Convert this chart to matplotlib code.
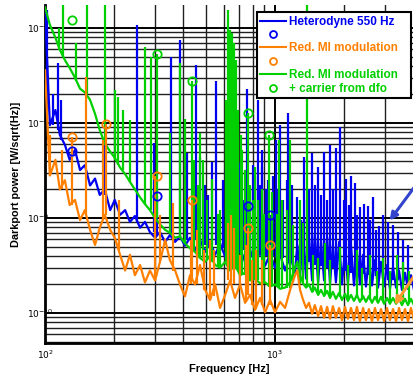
import matplotlib
matplotlib.use("Agg")
import matplotlib.pyplot as plt
from matplotlib.lines import Line2D
from matplotlib.ticker import NullFormatter

# colours of the three measurements
BLUE = "#0000f0"
ORANGE = "#ff8000"
GREEN = "#00d000"

# frequency grid [Hz] for the noise floors
freq = [100, 105, 111, 116, 122, 128, 135, 142, 149, 157, 165, 173, 182, 192, 201,
        212, 223, 234, 246, 259, 272, 286, 301, 316, 333, 349, 368, 386, 406, 427,
        449, 472, 497, 522, 549, 577, 607, 638, 670, 705, 741, 779, 819, 861, 906,
        952, 1000, 1052, 1106, 1163, 1222,
        1250, 1285, 1325, 1365, 1405, 1450, 1490, 1540, 1585, 1635, 1685, 1735, 1785,
        1840, 1900, 1955, 2015, 2075, 2140, 2205, 2270, 2340, 2415, 2485, 2560, 2640,
        2720, 2805, 2890, 2980, 3070, 3160, 3260, 3360, 3460, 3565, 3675, 3785, 3900, 4020]

# heterodyne 550 Hz floor [W/sqrt(Hz)]
blue = [1.55e-7, 9.5e-9, 1.37e-8, 7.5e-9, 5.9e-9, 4.1e-9, 5.2e-9, 3.2e-9, 3.6e-9, 2.2e-9,
        2.6e-9, 1.75e-9, 2.0e-9, 1.21e-9, 1.55e-9, 1.08e-9, 1.21e-9, 9.1e-10, 1.05e-9, 7.9e-10,
        9.1e-10, 7.1e-10, 6.2e-10, 7.1e-10, 5.6e-10, 6.6e-10, 5.6e-10, 6.4e-10, 5.1e-10, 6.2e-10,
        4.6e-10, 5.9e-10, 4.4e-10, 5.6e-10, 4.1e-10, 5.4e-10, 3.9e-10, 5.1e-10, 3.6e-10, 4.8e-10,
        3.45e-10, 4.6e-10, 3.3e-10, 4.4e-10, 3.15e-10, 4.2e-10, 3.0e-10, 4.1e-10, 2.8e-10, 4.0e-10,
        2.65e-10,
        5.2e-10, 2.5e-10, 7.1e-10, 2.3e-10, 6.2e-10, 2.2e-10, 6.6e-10, 2.1e-10, 5.6e-10, 2.2e-10,
        6.2e-10, 2.05e-10, 5.2e-10, 2.1e-10, 5.6e-10, 2.0e-10, 4.6e-10, 2.05e-10, 5.1e-10, 1.95e-10,
        4.4e-10, 2.0e-10, 4.1e-10, 1.9e-10, 3.8e-10, 1.95e-10, 3.6e-10, 1.85e-10, 3.45e-10, 1.9e-10,
        3.2e-10, 1.8e-10, 3.0e-10, 1.85e-10, 2.8e-10, 1.75e-10, 2.65e-10, 1.8e-10, 2.5e-10, 1.75e-10]

# reduced MI modulation floor
orange = [3.6e-8, 2.8e-9, 4.1e-9, 2.0e-9, 2.5e-9, 1.37e-9, 1.55e-9, 9.5e-10, 1.21e-9, 7.5e-10,
          5.2e-10, 7.9e-10, 1.08e-9, 7.5e-10, 6.2e-10, 4.1e-10, 2.8e-10, 4.1e-10, 2.5e-10, 3.2e-10,
          2.1e-10, 2.8e-10, 2.2e-10, 3.45e-10, 5.9e-10, 3.6e-10, 2.8e-10, 2.0e-10, 1.5e-10, 2.5e-10,
          2.0e-10, 3.2e-10, 1.75e-10, 1.37e-10, 2.0e-10, 1.13e-10, 1.55e-10, 2.2e-10, 1.44e-10, 2.0e-10,
          1.28e-10, 1.55e-10, 1.08e-10, 1.44e-10, 1.02e-10, 1.37e-10, 1.02e-10, 1.31e-10, 1.13e-10, 1.75e-10,
          2.5e-10,
          2.8e-10, 1.75e-10, 1.37e-10, 1.13e-10, 1.28e-10, 9.8e-11, 1.21e-10, 9.3e-11, 1.18e-10, 8.9e-11,
          1.16e-10, 8.7e-11, 1.18e-10, 8.9e-11, 1.13e-10, 8.4e-11, 1.16e-10, 8.7e-11, 1.13e-10, 8.4e-11,
          1.16e-10, 8.2e-11, 1.13e-10, 8.4e-11, 1.1e-10, 8.2e-11, 1.13e-10, 8.4e-11, 1.1e-10, 8.2e-11,
          1.13e-10, 8.4e-11, 1.1e-10, 8.2e-11, 1.13e-10, 8.4e-11, 1.1e-10, 8.2e-11, 1.13e-10, 8.4e-11]

# reduced MI modulation + carrier from dfo floor
green = [1.65e-7, 1.08e-7, 7.9e-8, 5.9e-8, 4.6e-8, 3.8e-8, 3.0e-8, 2.3e-8, 2.1e-8, 1.75e-8,
         1.25e-8, 8.4e-9, 6.1e-9, 5.0e-9, 4.3e-9, 3.4e-9, 2.9e-9, 2.4e-9, 2.0e-9, 1.65e-9,
         1.4e-9, 1.21e-9, 1.0e-9, 8.6e-10, 7.5e-10, 7.0e-10, 6.2e-10, 6.4e-10, 5.4e-10, 4.8e-10,
         4.4e-10, 3.8e-10, 3.45e-10, 4.0e-10, 3.2e-10, 3.0e-10, 3.45e-10, 2.8e-10, 3.2e-10, 2.5e-10,
         2.65e-10, 2.2e-10, 2.3e-10, 2.05e-10, 2.1e-10, 1.9e-10, 2.0e-10, 1.8e-10, 1.85e-10, 2.1e-10,
         3.0e-10,
         3.45e-10, 2.5e-10, 2.05e-10, 1.85e-10, 2.0e-10, 1.67e-10, 1.85e-10, 1.55e-10, 1.75e-10, 1.51e-10,
         1.71e-10, 1.44e-10, 1.67e-10, 1.41e-10, 1.63e-10, 1.37e-10, 1.59e-10, 1.34e-10, 1.55e-10, 1.34e-10,
         1.55e-10, 1.31e-10, 1.51e-10, 1.31e-10, 1.51e-10, 1.28e-10, 1.48e-10, 1.28e-10, 1.48e-10, 1.25e-10,
         1.44e-10, 1.25e-10, 1.44e-10, 1.25e-10, 1.41e-10, 1.21e-10, 1.41e-10, 1.21e-10, 1.41e-10, 1.21e-10]

# spectral lines: frequency, floor, peak
blue_line_f = [102, 108, 114, 117, 182, 251, 298, 307, 353, 386, 414, 453, 472, 497, 512,
               532, 553, 595, 613, 617, 644, 657, 670, 690, 705, 726, 756, 779, 802, 819,
               843, 861, 878, 880, 915, 930, 952, 980, 1010, 1021, 1052, 1085, 1125, 1144, 1181,
               1250, 1295, 1334, 1378, 1405, 1448,
               1490, 1538, 1585, 1633, 1685, 1734, 1785, 1842, 1915, 1990, 2040, 2090, 2140, 2230, 2270,
               2340, 2440, 2540, 2590, 2670, 2750, 2830, 2960, 3100, 3260, 3420, 3600, 3790]
blue_line_lo = [1.2e-8, 9.5e-9, 8.4e-9, 6.6e-9, 1.75e-9, 9.1e-10, 7.1e-10, 6.6e-10, 6.6e-10, 6.4e-10,
                5.9e-10, 5.9e-10, 5.9e-10, 5.2e-10, 5.2e-10, 5.2e-10, 5.2e-10, 4.8e-10, 4.8e-10, 4.8e-10,
                4.8e-10, 4.6e-10, 4.6e-10, 4.6e-10, 4.6e-10, 4.6e-10, 4.4e-10, 4.4e-10, 4.4e-10, 4.4e-10,
                4.2e-10, 4.2e-10, 4.2e-10, 4.2e-10, 4.0e-10, 4.0e-10, 4.0e-10, 4.0e-10, 3.8e-10, 3.8e-10,
                3.8e-10, 3.8e-10, 3.8e-10, 3.8e-10, 3.6e-10,
                3.6e-10, 3.6e-10, 3.45e-10, 3.45e-10, 3.45e-10, 3.2e-10,
                3.2e-10, 3.2e-10, 3.1e-10, 3.05e-10, 3.0e-10, 3.0e-10, 3.0e-10, 3.0e-10, 2.8e-10, 2.8e-10,
                2.8e-10, 2.8e-10, 2.65e-10, 2.65e-10, 2.65e-10,
                2.55e-10, 2.55e-10, 2.5e-10, 2.5e-10, 2.45e-10, 2.45e-10, 2.3e-10, 2.3e-10, 2.2e-10, 2.2e-10,
                2.2e-10, 2.1e-10, 2.1e-10]
blue_line_hi = [1.55e-7, 2.0e-8, 4.3e-8, 1.75e-8, 5.9e-9, 1.08e-7, 6.1e-9, 1.7e-9, 5.0e-8, 7.5e-8,
                4.8e-9, 4.1e-8, 4.4e-9, 2.2e-9, 1.75e-9, 3.9e-9, 2.8e-8, 2.5e-9, 3.2e-9, 2.0e-9,
                2.2e-9, 2.0e-9, 1.75e-9, 4.1e-9, 3.8e-9, 1.55e-9, 2.3e-8, 2.0e-9, 3.6e-9, 2.8e-9,
                1.75e-8, 2.2e-9, 5.2e-9, 3.45e-9, 2.0e-9, 2.5e-9, 1.08e-9, 2.8e-9, 6.6e-9, 2.0e-9,
                9.5e-9, 1.55e-9, 2.5e-9, 1.27e-8, 2.2e-9,
                1.65e-9, 9.5e-10, 4.4e-9, 1.55e-9, 2.0e-9, 4.8e-9,
                2.2e-9, 3.45e-9, 1.75e-9, 4.95e-9, 1.55e-9, 5.9e-9, 2.0e-9, 5.5e-9, 9.0e-9, 1.55e-9,
                2.6e-9, 1.37e-9, 2.8e-9, 2.35e-9, 1.08e-9,
                1.3e-9, 1.4e-9, 1.35e-9, 9.5e-10, 1.65e-9, 7.5e-10, 8.2e-10, 1.08e-9, 9.1e-10, 8.4e-10,
                7.1e-10, 5.9e-10, 5.2e-10]

green_line_f = [115, 120, 136, 152, 182, 201, 208, 218, 234, 272, 289, 307, 349, 386, 406,
                436, 444, 462, 472, 485, 506, 532, 565, 577, 613, 625, 636, 650, 663, 676,
                690, 712, 720, 741, 762, 779, 800, 819, 843, 878, 895, 943, 975, 1021, 1040,
                1075, 1125, 1160, 1200, 1285, 1324, 1374, 1470, 1540, 1650, 1734, 1915, 2077, 2272,
                2390, 2590, 2780, 2960, 3160, 3390, 3600, 3830]
green_line_lo = [5.9e-8, 4.9e-8, 2.8e-8, 2.0e-8, 5.9e-9, 4.1e-9, 3.6e-9, 3.2e-9, 2.4e-9, 1.4e-9,
                 1.21e-9, 1.0e-9, 7.0e-10, 6.4e-10, 5.4e-10, 4.8e-10, 4.6e-10, 4.0e-10, 3.8e-10, 3.8e-10,
                 3.6e-10, 3.45e-10, 3.1e-10, 3.0e-10, 3.45e-10, 2.8e-10, 2.8e-10, 2.9e-10, 3.2e-10, 2.9e-10,
                 2.8e-10, 2.5e-10, 2.5e-10, 2.5e-10, 2.5e-10, 2.2e-10, 2.2e-10, 2.3e-10, 2.2e-10, 2.0e-10,
                 2.1e-10, 1.9e-10, 1.95e-10, 1.9e-10, 1.85e-10,
                 1.85e-10, 1.85e-10, 1.85e-10, 2.1e-10, 2.0e-10, 2.0e-10, 1.9e-10, 1.67e-10, 1.63e-10,
                 1.6e-10, 1.51e-10, 1.48e-10, 1.44e-10, 1.44e-10,
                 1.37e-10, 1.37e-10, 1.37e-10, 1.34e-10, 1.34e-10, 1.31e-10, 1.31e-10, 1.31e-10]
green_line_hi = [1.0e-7, 1.75e-7, 6.9e-8, 1.75e-7, 1.8e-7, 2.2e-8, 1.9e-8, 1.37e-8, 1.08e-8, 6.3e-8,
                 5.0e-8, 5.3e-8, 7.8e-9, 4.3e-8, 1.1e-8, 2.8e-8, 4.1e-9, 2.2e-9, 7.8e-9, 4.1e-9,
                 1.55e-9, 2.6e-9, 1.1e-9, 1.2e-9, 1.75e-8, 1.55e-7, 9.5e-8, 8.9e-8, 6.9e-8, 4.6e-8,
                 1.37e-8, 7.5e-9, 5.2e-9, 3.2e-9, 1.27e-8, 2.2e-9, 1.55e-9, 3.45e-9, 1.55e-9, 2.0e-9,
                 1.1e-9, 7.5e-9, 1.9e-9, 1.1e-9, 6.6e-9,
                 1.55e-9, 1.2e-9, 6.6e-9, 8.4e-10, 1.55e-9, 8.9e-10, 1.75e-7, 4.1e-10, 3.8e-10,
                 5.4e-10, 3.6e-10, 4.9e-10, 3.2e-10, 4.6e-10,
                 3.0e-10, 4.1e-10, 2.8e-10, 3.8e-10, 2.8e-10, 4.1e-10, 3.45e-10, 2.8e-10]

orange_line_f = [105, 118, 131, 151, 179, 184, 210, 301, 316, 360, 432, 436, 458, 490, 522,
                 545, 625, 644, 663, 705, 748, 762, 793, 827, 878, 952]
orange_line_lo = [2.8e-9, 2.0e-9, 1.37e-9, 1.08e-9, 9.5e-10, 1.08e-9, 4.6e-10, 2.2e-10, 3.45e-10, 2.8e-10,
                  2.0e-10, 2.3e-10, 2.0e-10, 1.75e-10, 1.37e-10,
                  1.5e-10, 2.2e-10, 2.1e-10, 2.0e-10, 2.0e-10, 1.3e-10, 1.55e-10, 1.2e-10, 1.1e-10, 1.2e-10,
                  1.21e-10]
orange_line_hi = [7.5e-9, 5.2e-9, 7.1e-9, 3.05e-8, 6.6e-9, 9.8e-9, 1.55e-9, 2.75e-9, 1.08e-9, 1.45e-9,
                  5.9e-10, 1.55e-9, 7.5e-10, 4.6e-10, 5.9e-10,
                  4.6e-10, 8.9e-10, 1.08e-9, 7.9e-10, 4.1e-10, 5.2e-10, 7.9e-10, 3.6e-10, 4.6e-10, 3.6e-10,
                  5.2e-10]

# marked line peaks (open circles)
blue_mark_f = [131, 307, 762, 952]
blue_mark_v = [5.1e-9, 1.7e-9, 1.35e-9, 1.08e-9]
orange_mark_f = [131, 184, 307, 436, 762, 952]
orange_mark_v = [7.1e-9, 9.8e-9, 2.75e-9, 1.55e-9, 7.9e-10, 5.2e-10]
green_mark_f = [131, 307, 436, 762, 946]
green_mark_v = [1.21e-7, 5.3e-8, 2.8e-8, 1.27e-8, 7.5e-9]

x_ticks = [100, 1000]
y_ticks = [1e-10, 1e-9, 1e-8, 1e-7]

plt.rcParams["mathtext.fontset"] = "custom"
plt.rcParams["mathtext.rm"] = "Liberation Serif:bold"
plt.rcParams["mathtext.default"] = "rm"

fig = plt.figure(figsize=(4.13, 3.75), dpi=100)
ax = fig.add_axes([0.109, 0.0853, 0.891, 0.9013])
ax.set_xscale("log")
ax.set_yscale("log")

lw = 1.6
ax.plot(freq, blue, color=BLUE, lw=lw, zorder=3)
ax.vlines(blue_line_f, blue_line_lo, blue_line_hi, color=BLUE, lw=lw, zorder=3)
ax.plot(freq, green, color=GREEN, lw=lw, zorder=4)
ax.vlines(green_line_f, green_line_lo, green_line_hi, color=GREEN, lw=lw, zorder=4)
ax.plot(freq, orange, color=ORANGE, lw=lw, zorder=5)
ax.vlines(orange_line_f, orange_line_lo, orange_line_hi, color=ORANGE, lw=lw, zorder=5)

mk = dict(marker="o", ls="none", ms=6, mew=1.3, mfc="none", zorder=6)
ax.plot(blue_mark_f, blue_mark_v, mec=BLUE, **mk)
ax.plot(orange_mark_f, orange_mark_v, mec=ORANGE, **mk)
ax.plot(green_mark_f, green_mark_v, mec=GREEN, **mk)

ax.set_xlim(100, 3981)
ax.set_ylim(4.83e-11, 1.746e-7)
ax.set_xticks(x_ticks)
ax.set_yticks(y_ticks)

ax.set_axisbelow(True)
ax.grid(True, which="major", color="black", lw=1.4)
ax.grid(True, which="minor", color="#202020", lw=1.0)
ax.xaxis.set_minor_formatter(NullFormatter())
ax.yaxis.set_minor_formatter(NullFormatter())
ax.tick_params(which="both", length=0, labelsize=6.5)
ax.tick_params(axis="x", pad=4)
ax.tick_params(axis="y", pad=13)
for lbl in ax.get_yticklabels():
    lbl.set_ha("left")

for side in ["left", "bottom"]:
    ax.spines[side].set_linewidth(2)
ax.spines["right"].set_visible(False)
ax.spines["top"].set_visible(False)

ax.set_xlabel("Frequency [Hz]", family="Liberation Sans", fontweight="bold", fontsize=8, labelpad=2)
ax.set_ylabel("Darkport power [W/sqrt(Hz)]", family="Liberation Sans", fontweight="bold",
              fontsize=7.8, labelpad=4)

handles = [Line2D([], [], color=BLUE, lw=1.5),
           Line2D([], [], color=BLUE, marker="o", ls="none", ms=5, mew=1.3, mfc="none"),
           Line2D([], [], color=ORANGE, lw=1.5),
           Line2D([], [], color=ORANGE, marker="o", ls="none", ms=5, mew=1.3, mfc="none"),
           Line2D([], [], color=GREEN, lw=1.5),
           Line2D([], [], color=GREEN, marker="o", ls="none", ms=5, mew=1.3, mfc="none")]
# trailing spaces leave the extra room on the right of the box
labels = ["Heterodyne 550 Hz", " ", "Red. MI modulation   ", " ", "Red. MI modulation   ",
          "+ carrier from dfo"]
leg = ax.legend(handles, labels, loc="upper right", bbox_to_anchor=(0.995, 0.979),
                borderaxespad=0, prop={"family": "Liberation Sans", "weight": "bold", "size": 8.5},
                handlelength=2.2, handletextpad=0.25, labelspacing=0.12, borderpad=0.3,
                fancybox=False, framealpha=1, edgecolor="black")
leg.get_frame().set_linewidth(1.5)
leg.set_zorder(10)
for txt, c in zip(leg.get_texts(), [BLUE, BLUE, ORANGE, ORANGE, GREEN, GREEN]):
    txt.set_color(c)

# arrows pointing at the high-frequency floors
ax.annotate("", xy=(3097, 8.9e-10), xytext=(4300, 2.6e-9),
            arrowprops=dict(arrowstyle="-|>", color="#3344cc", lw=2.2, mutation_scale=11),
            annotation_clip=False, zorder=8)
ax.annotate("", xy=(3258, 1.15e-10), xytext=(4300, 3.1e-10),
            arrowprops=dict(arrowstyle="-|>", color="#ff9933", lw=2.2, mutation_scale=11),
            annotation_clip=False, zorder=8)

fig.savefig("out.png", dpi=100)
